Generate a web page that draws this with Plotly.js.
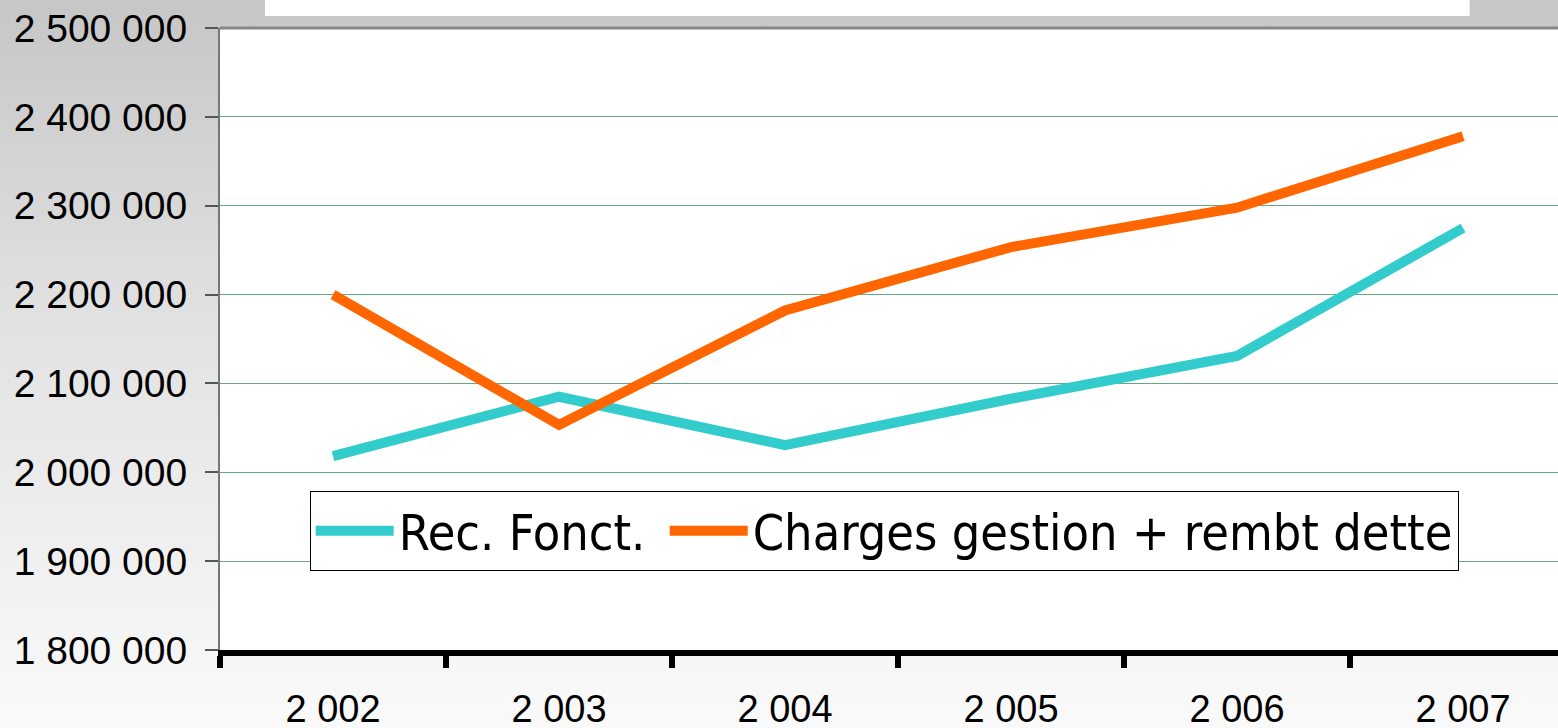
<!DOCTYPE html>
<html>
<head>
<meta charset="utf-8">
<script src="https://cdn.plot.ly/plotly-3.0.1.min.js"></script>
<style>
  html, body { margin: 0; padding: 0; overflow: hidden; }
  body { width: 1558px; height: 728px; background: linear-gradient(to bottom, #c6c6c6 0%, #e2e2e2 45%, #fafafa 100%); }
  #chart { width: 1558px; height: 728px; }
</style>
</head>
<body>
<div id="chart"></div>
<script>
const years = ['2 002', '2 003', '2 004', '2 005', '2 006', '2 007'];
const recFonct = [2018250, 2085000, 2030600, 2082750, 2130900, 2274900];
const chargesGestion = [2200000, 2053300, 2182100, 2253400, 2297800, 2378250];
const seriesNames = ['Rec. Fonct.\u00a0', 'Charges gestion + rembt dette'];
const seriesColors = ['#33CCCC', '#FF6600'];

const traces = [recFonct, chargesGestion].map((vals, i) => ({
  type: 'scatter',
  mode: 'lines',
  x: years,
  y: vals,
  name: seriesNames[i],
  line: { color: seriesColors[i], width: 10 },
  hoverinfo: 'skip'
}));

const layout = {
  width: 1558,
  height: 728,
  margin: { l: 220, r: 0, t: 28, b: 78 },
  paper_bgcolor: 'rgba(0,0,0,0)',
  plot_bgcolor: '#ffffff',
  font: { family: '"Liberation Sans", Arial, sans-serif', size: 39, color: '#000' },
  showlegend: true,
  legend: {
    orientation: 'h',
    x: 0.067, xanchor: 'left',
    y: 0.256, yanchor: 'top',
    bgcolor: '#ffffff',
    bordercolor: '#000000',
    borderwidth: 1,
    font: { family: '"DejaVu Sans Condensed", "DejaVu Sans", sans-serif', size: 50, color: '#000' },
    itemwidth: 78
  },
  xaxis: {
    type: 'category',
    range: [-0.5, 5.42],
    showgrid: false,
    zeroline: false,
    showline: true,
    linecolor: '#000000',
    linewidth: 6,
    ticks: 'outside',
    tickson: 'boundaries',
    ticklen: 12,
    tickwidth: 6,
    tickcolor: '#000000',
    ticklabelstandoff: 20,
    tickfont: { size: 38 },
    fixedrange: true
  },
  yaxis: {
    range: [1800000, 2500000],
    dtick: 100000,
    tickformat: ',.0f',
    showgrid: true,
    gridcolor: '#66a883',
    gridwidth: 1,
    zeroline: false,
    showline: true,
    linecolor: '#777777',
    linewidth: 2,
    ticks: 'outside',
    ticklen: 13,
    tickwidth: 2,
    tickcolor: '#555555',
    ticklabelstandoff: 10,
    tickfont: { size: 39 },
    fixedrange: true
  },
  separators: ', ',
  shapes: [
    { type: 'line', xref: 'paper', yref: 'paper', x0: 0, x1: 1, y0: 1, y1: 1,
      line: { color: '#888888', width: 3 } },
    { type: 'rect', xref: 'paper', yref: 'paper', x0: 0.0336, x1: 0.934, y0: 1.0193, y1: 1.06,
      fillcolor: '#ffffff', line: { width: 0 } }
  ]
};

Plotly.newPlot('chart', traces, layout, { displayModeBar: false, staticPlot: true });
</script>
</body>
</html>
